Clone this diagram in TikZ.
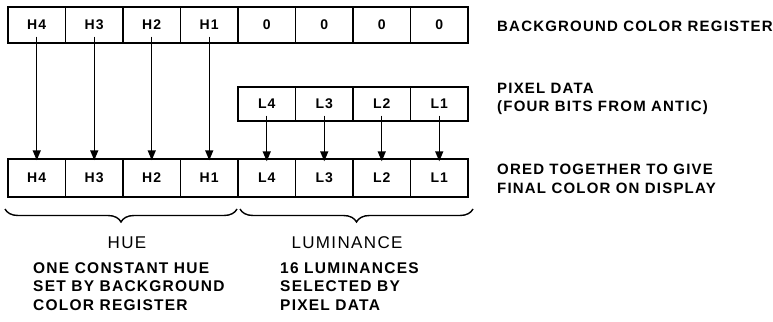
\documentclass[tikz,border=0pt]{standalone}
\usepackage{fontspec}
\setmainfont{Liberation Sans}[LetterSpace=8]
\usetikzlibrary{decorations.pathreplacing,arrows.meta}
\begin{document}
\begin{tikzpicture}[x=1pt,y=-1pt,
  cell/.style={draw,line width=1.4pt,minimum width=57.5pt,inner sep=0pt,font=\fontsize{14}{14}\selectfont\bfseries},
  topcell/.style={cell,minimum height=36pt},
  pixcell/.style={cell,minimum height=34pt},
  botcell/.style={cell,minimum height=38pt},
  arr/.style={line width=1.4pt,-{Triangle[length=10pt,width=8pt]}},
  brc/.style={line width=1.4pt,decorate,decoration={brace,mirror,amplitude=13pt,raise=0pt}},
  lab/.style={anchor=west,align=left,font=\fontsize{15}{18.5}\selectfont\bfseries,inner sep=0pt},
  big/.style={font=\fontsize{17}{17}\selectfont,inner sep=0pt},
  note/.style={anchor=north west,align=left,font=\fontsize{15.5}{18.5}\selectfont\bfseries,inner sep=0pt}]
\useasboundingbox (0,0) rectangle (773,321);
% top row
\foreach \t [count=\i] in {H4,H3,H2,H1,0,0,0,0}
  \node[topcell] (t\i) at ({8+57.5*(\i-0.5)},25) {\t};
% pixel row
\foreach \t [count=\i] in {L4,L3,L2,L1}
  \node[pixcell] (p\i) at ({238+57.5*(\i-0.5)},104) {\t};
% bottom row
\foreach \t [count=\i] in {H4,H3,H2,H1,L4,L3,L2,L1}
  \node[botcell] (b\i) at ({8+57.5*(\i-0.5)},178) {\t};
% arrows
\foreach \i in {1,...,4}
  \draw[arr] ([yshift=7pt]t\i.south) -- ([yshift=-2pt]b\i.north);
\foreach \i [evaluate=\i as \j using int(\i+4)] in {1,...,4}
  \draw[arr] ([yshift=6pt]p\i.south) -- ([yshift=-3pt]b\j.north);
% braces
\coordinate (bl1) at (5,209);
\coordinate (bl2) at (237,209);
\coordinate (br1) at (240,209);
\coordinate (br2) at (473,209);
\draw[brc] (bl1) -- (bl2);
\draw[brc] (br1) -- (br2);
% labels
\node[big] (hue) at (127,243) {HUE};
\node[big] (lum) at (347,243) {LUMINANCE};
\node[note] (n1) at (33,262) {ONE CONSTANT HUE\\SET BY BACKGROUND\\COLOR REGISTER};
\node[note] (n2) at (280,262) {16 LUMINANCES\\SELECTED BY\\PIXEL DATA};
\node[lab] (l1) at (497,26) {BACKGROUND COLOR REGISTER};
\node[lab] (l2) at (497,99) {PIXEL DATA\\(FOUR BITS FROM ANTIC)};
\node[lab] (l3) at (497,179) {ORED TOGETHER TO GIVE\\FINAL COLOR ON DISPLAY};
\end{tikzpicture}
\end{document}
